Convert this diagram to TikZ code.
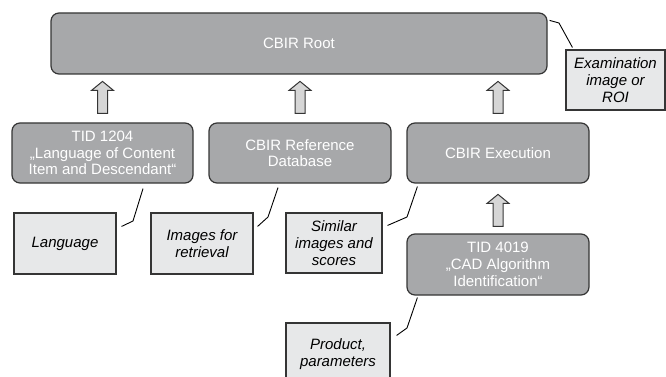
\documentclass[tikz,border=0pt]{standalone}
\usepackage{fontspec}
\setmainfont{Liberation Sans}
\usetikzlibrary{calc}
\definecolor{darkfill}{HTML}{A7A8AA}
\definecolor{lightfill}{HTML}{E7E8E9}
\definecolor{arrfill}{HTML}{D6D6D6}
\definecolor{edge}{HTML}{353535}
\tikzset{
  darkbox/.style={draw=edge, line width=1.2pt, fill=darkfill, rounded corners=8pt,
    text=white, align=center, inner sep=0pt, font=\fontsize{15}{16.7}\selectfont},
  notebox/.style={draw=edge, line width=1.1pt, fill=lightfill, text=black,
    align=center, inner sep=0pt, font=\fontsize{15}{17}\selectfont\itshape},
  arrowbox/.style={draw=edge, line width=1pt, fill=arrfill, line join=miter},
  link/.style={draw=black, line width=0.9pt}
}
\newcommand\blockup[1]{%
  \draw[arrowbox] #1 ++(-5,0) -- ++(0,-23) -- ++(-6,0) -- ++(11,-9) -- ++(11,9)
    -- ++(-6,0) -- ++(0,23) -- cycle;}
\begin{document}
\begin{tikzpicture}[x=1pt,y=-1pt]
\useasboundingbox (0,0) rectangle (666,377);
% main boxes
\node[darkbox, minimum width=496pt, minimum height=61pt] (root) at (299,43.5) {CBIR Root};
\node[darkbox, minimum width=181pt, minimum height=60pt] (tid1204) at (102.5,153)
  {TID 1204\\„Language of Content\\Item and Descendant“};
\node[darkbox, minimum width=182pt, minimum height=60pt] (refdb) at (300,153)
  {CBIR Reference\\Database};
\node[darkbox, minimum width=182pt, minimum height=60pt] (exec) at (498,153)
  {CBIR Execution};
\node[darkbox, minimum width=182pt, minimum height=61pt] (tid4019) at (498,264.5)
  {TID 4019\\„CAD Algorithm\\Identification“};
% note boxes
\node[notebox, minimum width=99pt, minimum height=60pt] (exam) at (615.5,80)
  {Examination\\image or\\ROI};
\node[notebox, minimum width=102pt, minimum height=61pt] (lang) at (65,243.5) {Language};
\node[notebox, minimum width=102pt, minimum height=61pt] (imgs) at (202,243.5)
  {Images for\\retrieval};
\node[notebox, minimum width=96pt, minimum height=60pt] (sim) at (334,243)
  {Similar\\images and\\scores};
\node[notebox, minimum width=104pt, minimum height=63pt] (prod) at (338,354.5)
  {Product,\\parameters};
% block arrows
\blockup{($(tid1204.north)+(0,-9)$)}
\blockup{($(refdb.north)+(0,-9)$)}
\blockup{($(exec.north)+(0,-9)$)}
\blockup{($(tid4019.north)+(0,-7)$)}
% links
\coordinate (l1a) at ($(tid1204.south)+(40.5,5)$);
\coordinate (l1e) at ($(lang.north east)+(5,14)$);
\draw[link] (l1a) -- (133,221) -- (l1e);
\coordinate (l2a) at ($(refdb.south)+(-22,4)$);
\coordinate (l2e) at ($(imgs.north east)+(4,14)$);
\draw[link] (l2a) -- (268,217) -- (l2e);
\coordinate (l3a) at ($(exec.south west)+(11,3)$);
\coordinate (l3e) at ($(sim.north east)+(5,13)$);
\draw[link] (l3a) -- (407,217) -- (l3e);
\coordinate (l4a) at ($(tid4019.south west)+(11,2)$);
\coordinate (l4e) at ($(prod.north east)+(6,13)$);
\draw[link] (l4a) -- (407,328) -- (l4e);
\coordinate (l5a) at ($(root.north east)+(2,8)$);
\coordinate (l5e) at ($(exam.north west)+(7,-2)$);
\draw[link] (l5a) -- (559,23) -- (l5e);
\end{tikzpicture}
\end{document}
